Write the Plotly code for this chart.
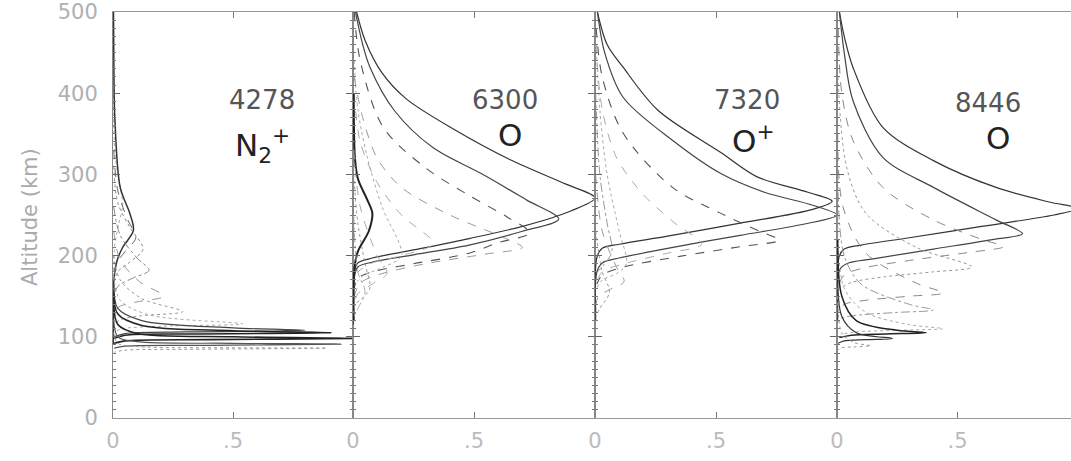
import plotly.graph_objects as go

# ---------------- data ----------------
WAVELENGTHS = ["4278", "6300", "7320", "8446"]
SPECIES = ["N<sub>2</sub><sup>+</sup>", "O", "O<sup>+</sup>", "O"]
Y_TICKS = [0, 100, 200, 300, 400, 500]
X_TICK_VALS = [0, 0.5]
X_TICK_TEXT = ["0", ".5"]

# Panel 1: 4278 N2+  (normalized emission vs altitude in km)
N2P_4278_VAL = [
    [0.002, 0.003, 0.01, 0.03, 0.04, 0.025, 0.008, 0.002],
    [0.002, 0.004, 0.008, 0.03, 0.07, 0.085, 0.04, 0.017, 0.005, 0.002, 0.001],
    [0.003, 0.02, 0.06, 0.095, 0.05, 0.015, 0.003],
    [0.003, 0.02, 0.07, 0.125, 0.07, 0.02, 0.004],
    [0.003, 0.03, 0.1, 0.15, 0.08, 0.02, 0.004],
    [0.003, 0.03, 0.11, 0.21, 0.1, 0.025, 0.004],
    [0.003, 0.03, 0.12, 0.29, 0.12, 0.03, 0.005],
    [0.003, 0.03, 0.15, 0.54, 0.2, 0.04, 0.005],
    [0.003, 0.02, 0.12, 0.5, 0.8, 0.3, 0.05, 0.005],
    [0.003, 0.02, 0.12, 0.5, 0.91, 0.3, 0.05, 0.005],
    [0.003, 0.02, 0.1, 0.5, 1.0, 0.4, 0.05, 0.005],
    [0.003, 0.02, 0.1, 0.5, 0.95, 0.4, 0.05, 0.005],
    [0.003, 0.02, 0.1, 0.5, 0.89, 0.3, 0.05, 0.005],
]
N2P_4278_ALT = [
    [420, 360, 320, 285, 262, 240, 215, 180],
    [500, 420, 367, 284, 252, 231, 210, 194, 175, 140, 90],
    [330, 280, 245, 222, 205, 190, 170],
    [310, 265, 235, 208, 192, 180, 165],
    [260, 225, 197, 182, 172, 162, 150],
    [230, 195, 168, 150, 143, 137, 128],
    [200, 170, 147, 131, 126, 121, 115],
    [175, 145, 127, 116, 113, 110, 106],
    [165, 135, 120, 111, 108, 106, 104, 100],
    [155, 128, 114, 107.5, 105, 103.5, 102, 98],
    [140, 115, 104, 100, 98, 96.5, 95, 92],
    [120, 100, 94, 92, 91, 89.5, 88.5, 86],
    [105, 92, 88, 86.5, 86, 84.5, 83.5, 81],
]

# Panel 2: 6300 O
O_6300_VAL = [
    [0.015, 0.05, 0.12, 0.22, 0.42, 0.65, 0.88, 1.0, 0.9, 0.7, 0.48, 0.25, 0.08, 0.02, 0.005, 0.002],
    [0.01, 0.04, 0.07, 0.17, 0.33, 0.53, 0.72, 0.85, 0.7, 0.48, 0.25, 0.08, 0.02, 0.005, 0.002],
    [0.005, 0.03, 0.125, 0.3, 0.48, 0.64, 0.73, 0.6, 0.48, 0.25, 0.08, 0.02, 0.005],
    [0.005, 0.04, 0.1, 0.2, 0.4, 0.6, 0.70, 0.55, 0.3, 0.1, 0.03, 0.005],
    [0.005, 0.02, 0.06, 0.12, 0.2, 0.12, 0.04, 0.01],
    [0.005, 0.03, 0.1, 0.2, 0.33, 0.2, 0.07, 0.02],
    [0.003, 0.008, 0.02, 0.06, 0.08, 0.065, 0.02, 0.006, 0.003],
    [0.003, 0.02, 0.05, 0.07, 0.04, 0.01, 0.003],
    [0.003, 0.03, 0.1, 0.14, 0.08, 0.02, 0.004],
    [0.003, 0.02, 0.05, 0.02, 0.004],
]
O_6300_ALT = [
    [500, 465, 425, 393, 355, 318, 288, 271, 255, 236, 221, 207, 197, 191, 178, 120],
    [500, 460, 432, 379, 333, 301, 268, 245, 230, 213, 201, 192, 186, 172, 115],
    [500, 440, 358, 308, 274, 247, 228, 216, 203, 190, 180, 172, 160],
    [420, 370, 320, 284, 250, 225, 210, 202, 190, 176, 166, 150],
    [440, 380, 320, 260, 200, 185, 175, 165],
    [400, 340, 290, 250, 215, 200, 190, 180],
    [400, 320, 295, 268, 252, 230, 205, 185, 120],
    [300, 240, 190, 160, 148, 140, 130],
    [330, 260, 200, 178, 165, 153, 140],
    [250, 180, 155, 135, 125],
]

# Panel 3: 7320 O+
OP_7320_VAL = [
    [0.01, 0.05, 0.116, 0.26, 0.52, 0.67, 0.88, 0.98, 0.9, 0.6, 0.3, 0.1, 0.03, 0.008, 0.003],
    [0.01, 0.04, 0.116, 0.32, 0.52, 0.7, 0.9, 1.0, 0.85, 0.6, 0.3, 0.1, 0.03, 0.008, 0.003],
    [0.005, 0.03, 0.116, 0.32, 0.52, 0.68, 0.76, 0.6, 0.35, 0.12, 0.03, 0.008],
    [0.004, 0.03, 0.09, 0.2, 0.33, 0.44, 0.3, 0.12, 0.03, 0.008],
    [0.005, 0.02, 0.05, 0.1, 0.13, 0.09, 0.03, 0.008],
    [0.003, 0.02, 0.05, 0.07, 0.04, 0.01],
    [0.003, 0.03, 0.09, 0.12, 0.06, 0.015, 0.004],
    [0.003, 0.03, 0.06, 0.02, 0.005],
]
OP_7320_ALT = [
    [500, 460, 432, 379, 327, 297, 278, 267, 257, 240, 224, 214, 209, 198, 130],
    [500, 450, 395, 342, 301, 278, 262, 250, 238, 225, 209, 197, 191, 180, 120],
    [480, 420, 351, 284, 252, 230, 219, 211, 199, 186, 176, 165],
    [460, 380, 320, 275, 240, 214, 203, 190, 180, 168],
    [460, 380, 300, 230, 190, 178, 170, 160],
    [400, 300, 240, 205, 190, 180],
    [300, 230, 185, 168, 158, 150, 140],
    [230, 180, 155, 135, 125],
]

# Panel 4: 8446 O
O_8446_VAL = [
    [0.01, 0.03, 0.066, 0.19, 0.40, 0.66, 0.88, 1.0, 0.9, 0.6, 0.3, 0.1, 0.03, 0.008, 0.003],
    [0.01, 0.03, 0.066, 0.19, 0.40, 0.66, 0.77, 0.65, 0.4, 0.15, 0.04, 0.01, 0.003],
    [0.005, 0.02, 0.066, 0.19, 0.40, 0.6, 0.69, 0.55, 0.3, 0.1, 0.03, 0.008],
    [0.004, 0.04, 0.12, 0.33, 0.56, 0.4, 0.2, 0.06, 0.015],
    [0.003, 0.025, 0.12, 0.33, 0.44, 0.3, 0.12, 0.03, 0.008],
    [0.003, 0.03, 0.1, 0.3, 0.4, 0.25, 0.1, 0.02, 0.005],
    [0.003, 0.03, 0.12, 0.3, 0.44, 0.25, 0.08, 0.015],
    [0.003, 0.02, 0.08, 0.25, 0.37, 0.2, 0.06, 0.01],
    [0.003, 0.02, 0.08, 0.23, 0.12, 0.03, 0.005],
    [0.003, 0.02, 0.07, 0.14, 0.07, 0.02, 0.004],
]
O_8446_ALT = [
    [500, 470, 432, 358, 317, 284, 266, 258, 250, 236, 222, 213, 208, 198, 130],
    [500, 450, 391, 321, 284, 244, 227, 220, 208, 196, 190, 182, 120],
    [480, 400, 342, 284, 244, 220, 211, 204, 194, 184, 176, 165],
    [420, 309, 252, 210, 186, 180, 174, 167, 160],
    [350, 260, 203, 166, 154, 150, 145, 140, 133],
    [300, 200, 165, 140, 133, 130, 127, 123, 118],
    [250, 160, 130, 115, 110, 108, 106, 103],
    [220, 150, 120, 108, 105, 103.5, 102, 99],
    [180, 125, 105, 98, 96.5, 95, 92],
    [150, 105, 93, 89, 87.5, 86.5, 84],
]

# ---------------- styles ----------------
# (color, dash, width) per curve
STYLE_1 = [("#aaaaaa", "dot", 1), ("#333333", "solid", 1.5), ("#666666", "dash", 1),
           ("#888888", "dot", 1), ("#888888", "dashdot", 1), ("#999999", "dash", 1),
           ("#999999", "dot", 1), ("#aaaaaa", "dot", 1), ("#444444", "solid", 1.2),
           ("#222222", "solid", 1.5), ("#222222", "solid", 1.6), ("#555555", "solid", 1.2),
           ("#999999", "dot", 1)]
STYLE_2 = [("#333333", "solid", 1.2), ("#444444", "solid", 1.2), ("#555555", "dash", 1.1),
           ("#999999", "dash", 1), ("#aaaaaa", "dot", 1), ("#aaaaaa", "dash", 1),
           ("#222222", "solid", 2), ("#999999", "dot", 1), ("#aaaaaa", "dash", 1),
           ("#aaaaaa", "dashdot", 1)]
STYLE_3 = [("#333333", "solid", 1.2), ("#444444", "solid", 1.2), ("#555555", "dash", 1.1),
           ("#aaaaaa", "dash", 1), ("#aaaaaa", "dot", 1), ("#999999", "dashdot", 1),
           ("#999999", "dash", 1), ("#999999", "dot", 1)]
STYLE_4 = [("#333333", "solid", 1.2), ("#444444", "solid", 1.2), ("#888888", "dash", 1),
           ("#999999", "dot", 1), ("#888888", "dash", 1), ("#999999", "dashdot", 1),
           ("#aaaaaa", "dot", 1), ("#222222", "solid", 1.5), ("#333333", "solid", 1.2),
           ("#999999", "dot", 1)]

PANELS = [(N2P_4278_VAL, N2P_4278_ALT, STYLE_1),
          (O_6300_VAL, O_6300_ALT, STYLE_2),
          (OP_7320_VAL, OP_7320_ALT, STYLE_3),
          (O_8446_VAL, O_8446_ALT, STYLE_4)]

PLOT_W = 958.0
DOMAINS = [[0, 240 / PLOT_W], [240 / PLOT_W, 482 / PLOT_W],
           [482 / PLOT_W, 724 / PLOT_W], [724 / PLOT_W, 1.0]]
X_RANGES = [[0, 1], [0, 1], [0, 1], [0, 0.971]]
LABEL_POS = [(0.622, 392, 0.622, 336), (0.63, 392, 0.647, 348),
             (0.63, 392, 0.656, 344), (0.627, 388, 0.668, 345)]

fig = go.Figure()

for i, (vals, alts, styles) in enumerate(PANELS):
    n = i + 1
    xa = "x" if n == 1 else f"x{n}"
    ya = "y" if n == 1 else f"y{n}"
    for v, a, (col, dash, w) in zip(vals, alts, styles):
        fig.add_trace(go.Scatter(
            x=v, y=a, mode="lines", xaxis=xa, yaxis=ya,
            line=dict(color=col, dash=dash, width=w, shape="spline", smoothing=0.9),
            showlegend=False, hoverinfo="skip"))

    kx = "xaxis" if n == 1 else f"xaxis{n}"
    ky = "yaxis" if n == 1 else f"yaxis{n}"
    fig.layout[kx] = dict(
        domain=DOMAINS[i], range=X_RANGES[i], anchor=ya,
        tickvals=X_TICK_VALS, ticktext=X_TICK_TEXT,
        ticks="inside", ticklen=6, tickcolor="#777",
        mirror="allticks", showline=True, linecolor="#999", linewidth=1,
        showgrid=False, zeroline=False, ticklabelstandoff=4,
        tickfont=dict(family="DejaVu Sans", size=21, color="#bbbbbb"))
    fig.layout[ky] = dict(
        range=[0, 500], anchor=xa, tickvals=Y_TICKS,
        showticklabels=(n == 1),
        ticks="inside", ticklen=7, tickcolor="#666",
        mirror=("allticks" if n < 4 else False),
        showline=True, linecolor="#888", linewidth=1,
        showgrid=False, zeroline=False, ticklabelstandoff=10,
        minor=dict(dtick=10, ticks="inside", ticklen=3, tickcolor="#777"),
        tickfont=dict(family="DejaVu Sans", size=21, color="#b0b0b0"))

    wx, wy, sx, sy = LABEL_POS[i]
    fig.add_annotation(x=wx, y=wy, xref=xa, yref=ya, text=WAVELENGTHS[i],
                       showarrow=False,
                       font=dict(family="DejaVu Sans", size=26, color="#555555"))
    fig.add_annotation(x=sx, y=sy, xref=xa, yref=ya, text=SPECIES[i],
                       showarrow=False,
                       font=dict(family="DejaVu Sans", size=31, color="#222222"))

fig.add_annotation(x=-83 / PLOT_W, y=0.495, xref="paper", yref="paper",
                   xanchor="center", yanchor="middle",
                   text="Altitude (km)", textangle=-90, showarrow=False,
                   font=dict(family="DejaVu Sans", size=21, color="#aaaaaa"))

fig.update_layout(
    width=1071, height=461,
    margin=dict(l=113, r=0, t=12, b=43),
    paper_bgcolor="white", plot_bgcolor="white",
    showlegend=False,
)

fig.write_html(
    "out.html",
    config={"displayModeBar": False},
    post_script="document.body.style.margin='0';document.body.style.overflow='hidden';",
)
